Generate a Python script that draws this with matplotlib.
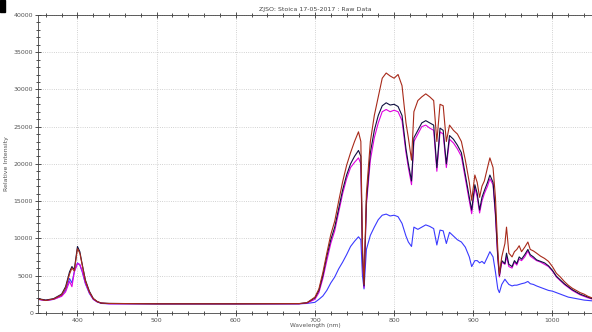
import numpy as np
import matplotlib
matplotlib.use("Agg")
import matplotlib.pyplot as plt
from matplotlib.ticker import MultipleLocator

# wavelengths (nm) and intensities
wl = [350, 360, 370, 380, 385, 390, 393, 396, 400, 403, 406, 410, 415, 420, 425, 430,
      440, 500, 600, 680, 690, 700, 705, 710, 715, 720, 725, 730, 735, 740, 745, 750,
      755, 758, 760, 762, 765, 770, 775, 780, 785, 790, 795, 800, 805, 810, 815, 818,
      822, 825, 830, 835, 840, 845, 850, 854, 858, 862, 866, 870, 875, 880, 885, 890,
      895, 898, 902, 905, 908, 911, 914, 918, 921, 925, 928, 931, 933, 936, 940, 942,
      945, 949, 952, 955, 958, 961, 965, 969, 972, 976, 980, 985, 990, 995, 1000, 1005,
      1010, 1015, 1020, 1025, 1030, 1035, 1040, 1045, 1050]

black = [1900, 1700, 1900, 2500, 3500, 5500, 6200, 5800, 8900, 8200, 6500, 4400, 2900, 1900, 1500, 1300,
         1250, 1200, 1200, 1220, 1350, 2000, 3000, 5000, 7600, 9800, 11500, 14000, 16500, 18500, 20000, 21000,
         21800, 21000, 8000, 3600, 15000, 21500, 24500, 26500, 27800, 28200, 27900, 28000, 27700, 26500, 22000, 20000,
         17700, 23500, 24500, 25500, 25800, 25500, 25200, 19500, 24800, 24500, 20000, 23800, 23300, 22500, 21500, 18500,
         15500, 13800, 17200, 16000, 13800, 15500, 16400, 17500, 18500, 17500, 13500, 7500, 5000, 7000, 6600, 8000,
         6500, 6200, 7000, 6600, 7500, 7200, 7800, 8500, 7800, 7500, 7100, 6900, 6700, 6300, 5700, 4900,
         4400, 3900, 3500, 3100, 2800, 2500, 2300, 2100, 1900]

red = [1850, 1650, 1850, 2400, 3300, 5200, 6000, 5600, 8600, 8000, 6400, 4300, 2800, 1900, 1500, 1300,
       1250, 1200, 1200, 1230, 1350, 2100, 3200, 5400, 8000, 10500, 12300, 15000, 17600, 19800, 21500, 23000,
       24300, 23000, 9000, 3800, 16000, 23000, 26500, 29000, 31500, 32200, 31800, 31500, 32000, 30500, 25500, 23500,
       20500, 27000, 28500, 29000, 29400, 29000, 28500, 23000, 28000, 27800, 23000, 25200, 24500, 24000, 23000, 20500,
       17500, 15100, 18500, 17500, 15500, 17000, 17700, 19500, 20800, 19500, 15500, 8500, 5200, 7500, 9300, 11500,
       8000, 7500, 8200, 8500, 9000, 8200, 8800, 9500, 8500, 8300, 8000, 7600, 7300, 6900, 6200, 5300,
       4800, 4200, 3700, 3300, 3000, 2700, 2500, 2200, 2000]

magenta = [1800, 1650, 1800, 2200, 2800, 4200, 3500, 5500, 6600, 6500, 5600, 4000, 2700, 1800, 1450, 1300,
           1200, 1200, 1200, 1200, 1300, 1800, 2700, 4600, 7000, 9300, 11000, 13500, 16000, 18000, 19500, 20200,
           20800, 20000, 7500, 3400, 14500, 20500, 23500, 25500, 27000, 27300, 27000, 27200, 27000, 25800, 21500, 19500,
           17200, 23000, 24000, 25000, 25200, 24800, 24500, 19000, 24300, 24000, 19500, 23300, 22800, 22000, 21000, 18000,
           15000, 13300, 16800, 15500, 13400, 15000, 16000, 17000, 18000, 17200, 13000, 7200, 4800, 6800, 6500, 7500,
           6200, 6000, 6800, 6400, 7200, 7000, 7500, 8300, 7600, 7300, 7000, 6800, 6500, 6200, 5600, 4800,
           4300, 3800, 3400, 3000, 2700, 2400, 2200, 2000, 1850]

blue = [1800, 1650, 1800, 2300, 3000, 4600, 4000, 5500, 6700, 6400, 5500, 3900, 2600, 1800, 1450, 1250,
        1200, 1200, 1200, 1200, 1250, 1400, 1800, 2250, 3000, 4000, 4800, 5900, 6800, 7800, 8900, 9600,
        10200, 9800, 5000, 3200, 8500, 10400, 11500, 12500, 13100, 13250, 13000, 13100, 12900, 12000, 10300, 9500,
        8900, 11500, 11200, 11500, 11800, 11600, 11300, 9100, 11100, 11000, 9300, 10800, 10300, 9800, 9500, 8800,
        7500, 6200, 7000, 7000, 6700, 6900, 6600, 7500, 8200, 7500, 5500, 3200, 2700, 3800, 4500, 4200,
        3800, 3600, 3700, 3700, 3800, 3900, 4000, 4200, 3900, 3800, 3600, 3400, 3200, 3000, 2900, 2700,
        2500, 2300, 2100, 2000, 1900, 1800, 1700, 1650, 1600]

fig = plt.figure(figsize=(5.92, 3.32), dpi=100)
ax = fig.add_axes([0.064, 0.058, 0.936, 0.897])

ax.plot(wl, blue, color="#3a3aff", lw=0.8)
ax.plot(wl, magenta, color="#e000e0", lw=0.8)
ax.plot(wl, black, color="#101040", lw=0.8)
ax.plot(wl, red, color="#a82a1a", lw=0.8)

ax.set_xlim(350, 1050)
ax.set_ylim(0, 40000)
ax.xaxis.set_major_locator(MultipleLocator(100))
ax.xaxis.set_minor_locator(MultipleLocator(20))
ax.yaxis.set_major_locator(MultipleLocator(5000))
ax.yaxis.set_minor_locator(MultipleLocator(1000))
ax.tick_params(which="both", direction="inout", top=True, right=False,
               labelsize=4.5, colors="#333333", labelcolor="#555555", width=0.6)
ax.tick_params(which="major", length=4, pad=1.5)
ax.tick_params(which="minor", length=2.5)
ax.grid(True, which="major", ls=":", color="#c4c4c4", lw=0.6)
for s in ax.spines.values():
    s.set_linewidth(0.6)
    s.set_color("#444444")
ax.spines["right"].set_visible(False)

ax.set_title("ZJSO: Stoica 17-05-2017 : Raw Data", fontsize=4.5, color="#444444", pad=3)
ax.set_ylabel("Relative Intensity", fontsize=4.5, color="#555555", labelpad=3)
ax.set_xlabel("Wavelength (nm)", fontsize=4.2, color="#555555", labelpad=0)

# small dark mark in the top left corner of the screenshot
fig.patches.append(plt.Rectangle((0.0, 0.965), 0.008, 0.035, transform=fig.transFigure,
                                 color="black"))

fig.savefig("out.png", dpi=100)
